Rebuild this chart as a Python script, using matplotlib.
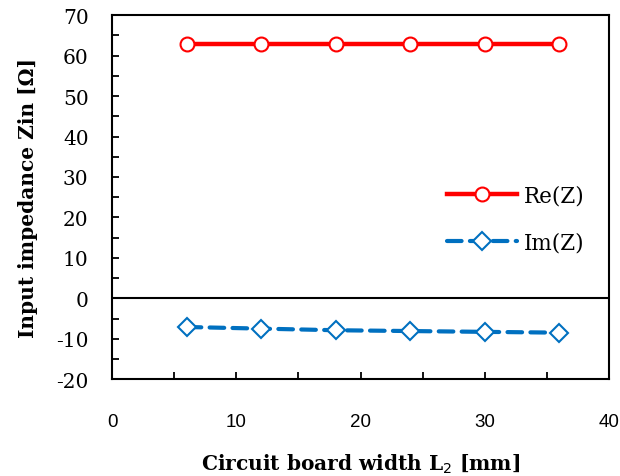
import matplotlib
matplotlib.use("Agg")
import matplotlib.pyplot as plt
from matplotlib.ticker import MultipleLocator

plt.rcParams["axes.unicode_minus"] = False

# Data
width_mm = [6, 12, 18, 24, 30, 36]
re_z = [62.8, 62.8, 62.8, 62.8, 62.8, 62.8]
im_z = [-7.1, -7.5, -7.9, -8.1, -8.3, -8.5]

x_ticks = [0, 10, 20, 30, 40]
y_ticks = [-20, -10, 0, 10, 20, 30, 40, 50, 60, 70]

red = "#FF0000"
blue = "#0070C0"
serif = "DejaVu Serif"

fig = plt.figure(figsize=(6.2, 4.77), dpi=100)
ax = fig.add_axes([0.181, 0.203, 0.801, 0.763])

ax.plot(width_mm, re_z, color=red, lw=3.2, marker="o", markersize=10,
        markerfacecolor="white", markeredgecolor=red, markeredgewidth=1.5,
        label="Re(Z)", zorder=3)
ax.plot(width_mm, im_z, color=blue, lw=3, dashes=(3.5, 2), dash_capstyle="round",
        marker="D", markersize=9, markerfacecolor="white", markeredgecolor=blue,
        markeredgewidth=1.5, label="Im(Z)", zorder=3)

ax.axhline(0, color="black", lw=1.5, zorder=2)

ax.set_xlim(0, 40)
ax.set_ylim(-20, 70)
ax.set_xticks(x_ticks)
ax.set_yticks(y_ticks)
ax.xaxis.set_minor_locator(MultipleLocator(5))
ax.yaxis.set_minor_locator(MultipleLocator(5))
ax.tick_params(which="both", direction="in", length=5, width=1.3,
               top=False, right=False)
ax.tick_params(axis="x", which="major", pad=24)
ax.tick_params(axis="y", which="major", pad=17)

for lab in ax.get_xticklabels():
    lab.set_fontfamily("Liberation Sans")
    lab.set_fontsize(13.5)
for lab in ax.get_yticklabels():
    lab.set_fontfamily(serif)
    lab.set_fontsize(14.5)

for sp in ax.spines.values():
    sp.set_linewidth(1.5)

ax.set_xlabel("Circuit board width L$_2$ [mm]", fontsize=14.5, fontweight="bold",
              family=serif, labelpad=16)
ax.set_ylabel("Input impedance Zin [\u03a9]", fontsize=14.5, fontweight="bold",
              family=serif, labelpad=13)

ax.legend(loc="upper left", bbox_to_anchor=(0.675, 0.535), frameon=False,
          handlelength=3.25, labelspacing=1.15, handletextpad=0.28,
          borderaxespad=0, borderpad=0,
          prop={"family": serif, "size": 15.5})

fig.savefig("out.png", dpi=100)
